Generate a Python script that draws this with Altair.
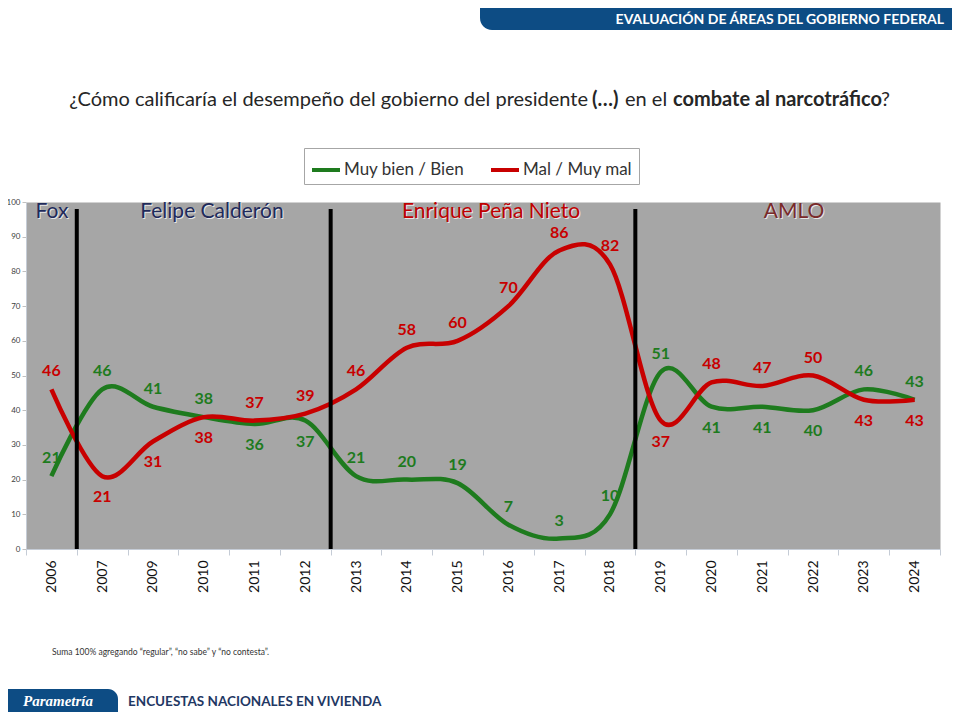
import altair as alt
import pandas as pd

years = ["2006", "2007", "2009", "2010", "2011", "2012", "2013", "2014", "2015",
         "2016", "2017", "2018", "2019", "2020", "2021", "2022", "2023", "2024"]
bien = [21, 46, 41, 38, 36, 37, 21, 20, 19, 7, 3, 10, 51, 41, 41, 40, 46, 43]
mal = [46, 21, 31, 38, 37, 39, 46, 58, 60, 70, 86, 82, 37, 48, 47, 50, 43, 43]
periodo = ["Fox"] + ["Calderón"] * 5 + ["Peña Nieto"] * 6 + ["AMLO"] * 6
series = ["Muy bien / Bien", "Mal / Muy mal"]
colores = ["#1E7B1E", "#C80000"]
y_ticks = list(range(0, 101, 10))

FONT = "Lato"
W, H = 914, 347

rows = []
for i, a in enumerate(years):
    for s, vals, otros in ((series[0], bien, mal), (series[1], mal, bien)):
        v, o = vals[i], otros[i]
        lower = v < o if s == series[0] else v <= o
        abajo = periodo[i] in ("Calderón", "AMLO") and lower
        rows.append({"anio": a, "serie": s, "valor": v,
                     "lado": "abajo" if abajo else "arriba"})
df = pd.DataFrame(rows)
cortes = pd.DataFrame({"anio": [years[i] for i in range(1, len(years))
                                if periodo[i] != periodo[i - 1]]})

xscale = alt.Scale(type="band", paddingInner=0, paddingOuter=0)
xaxis = alt.Axis(title=None, labelAngle=270, labelAlign="right", labelBaseline="middle",
                 labelFontSize=14, labelFont=FONT, labelColor="#111111", labelPadding=5,
                 tickBand="extent", tickColor="#C5CCD6", tickSize=6,
                 domainColor="#C5CCD6", grid=False)
yscale = alt.Scale(domain=[0, 100], nice=False)
yaxis = alt.Axis(title=None, values=y_ticks, labelFontSize=8, labelFont=FONT,
                 labelColor="#404040", tickColor="#C0C0C0", tickSize=4,
                 domainColor="#C5CCD6", grid=False, labelPadding=2)
cscale = alt.Scale(domain=series, range=colores)

def xenc(**kw):
    return alt.X("anio:N", sort=years, scale=xscale, axis=xaxis, **kw)

yenc = alt.Y("valor:Q", scale=yscale, axis=yaxis)

base = alt.Chart(df)
lines = base.mark_line(interpolate="cardinal", strokeWidth=4.5).encode(
    x=xenc(), y=yenc,
    color=alt.Color("serie:N", scale=cscale, legend=alt.Legend(
        title=None, orient="none", legendX=278, legendY=-54, direction="horizontal",
        fillColor="white", strokeColor="#A6A6A6", padding=6, symbolType="stroke",
        symbolStrokeWidth=4, symbolSize=784, labelFont=FONT, labelFontSize=17,
        labelColor="#333333", columnPadding=18, labelOffset=2)))

def labels(lado, dy):
    return base.transform_filter(alt.datum.lado == lado).mark_text(
        font=FONT, fontWeight="bold", fontSize=16, dy=dy).encode(
        x=xenc(), y=yenc, text="valor:Q",
        color=alt.Color("serie:N", scale=cscale, legend=None))

rules = alt.Chart(cortes).mark_rule(color="black", strokeWidth=4).encode(
    x=xenc(bandPosition=0), y=alt.value(7), y2=alt.value(H))

def texto(t, x, y, **kw):
    return alt.Chart(pd.DataFrame({"t": [t]})).mark_text(**kw).encode(
        x=alt.value(x), y=alt.value(y), text="t:N")

def caja(x, x2, y, y2, **kw):
    return alt.Chart(pd.DataFrame({"t": [0]})).mark_rect(**kw).encode(
        x=alt.value(x), x2=alt.value(x2), y=alt.value(y), y2=alt.value(y2))

def sombreado(t, x, y, color, size):
    kw = dict(font=FONT, fontSize=size, align="center", baseline="middle")
    return [texto(t, x + 1, y + 1, color="#E6E6E6", **kw),
            texto(t, x, y, color=color, **kw)]

periodos = (sombreado("Fox", 26, 10, "#1F2A5A", 21)
            + sombreado("Felipe Calderón", 186, 10, "#1F2A5A", 21)
            + sombreado("Enrique Peña Nieto", 465, 10, "#C00000", 21)
            + sombreado("AMLO", 768, 10, "#7A2A2A", 21))

tkw = dict(font=FONT, fontSize=20, baseline="middle", color="#262626")
titulo = [
    texto("¿Cómo calificaría el desempeño del gobierno del presidente", 562, -102,
          align="right", **tkw),
    texto("(…)", 566, -102, align="left", fontWeight="bold", **tkw),
    texto("en el", 599, -102, align="left", **tkw),
    texto("combate al narcotráfico", 647, -102, align="left", fontWeight="bold", **tkw),
    texto("?", 855, -102, align="left", **tkw),
]

encabezado = [
    caja(454, 940, -212, -172, color="#0D4C84", cornerRadiusBottomLeft=12),
    texto("EVALUACIÓN DE ÁREAS DEL GOBIERNO FEDERAL", 918, -182, align="right",
          baseline="middle", font=FONT, fontSize=14, fontWeight="bold", color="white"),
]

pie = [
    texto("Suma 100%  agregando “regular”, “no sabe” y “no contesta”.", 26, 450,
          align="left", baseline="middle", font=FONT, fontSize=8.5, color="#333333"),
    caja(-30, 92, 487, 530, color="#0D4C84", cornerRadiusTopRight=10),
    texto("Parametría", 32, 499, align="center", baseline="middle",
          font="Liberation Serif", fontSize=15, fontWeight="bold", fontStyle="italic",
          color="white"),
    texto("ENCUESTAS NACIONALES EN VIVIENDA", 102, 500, align="left", baseline="middle",
          font=FONT, fontSize=13.5, fontWeight="bold", color="#1F3864"),
]

chart = alt.layer(
    lines, rules, labels("arriba", -18), labels("abajo", 21),
    *periodos, *titulo, *encabezado, *pie
).properties(
    width=W, height=H,
    autosize=alt.AutoSizeParams(type="none"),
    padding={"left": 18, "top": 194, "right": 12, "bottom": 163},
    background="white",
).configure_view(fill="#A6A6A6", stroke="transparent")

chart.save("out.html", embed_options={"renderer": "svg", "actions": False})
